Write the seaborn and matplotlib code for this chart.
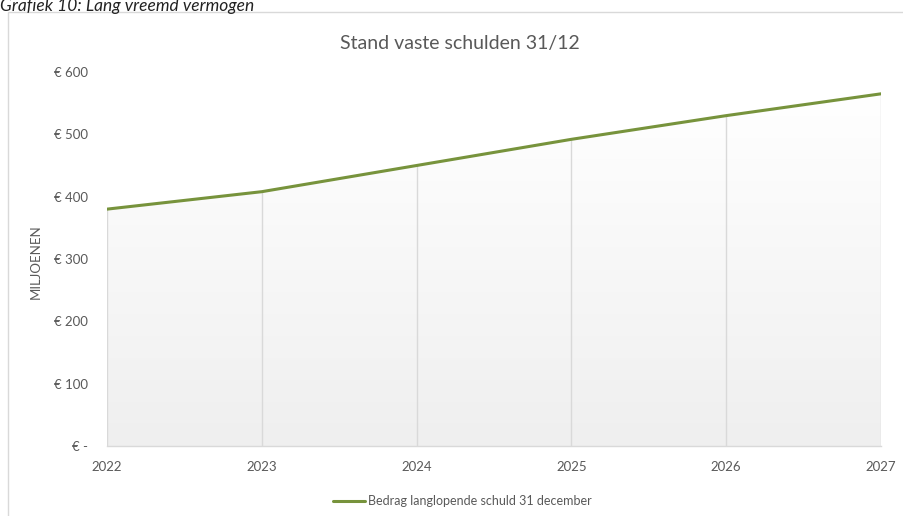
import numpy as np
import pandas as pd
import matplotlib
matplotlib.use("Agg")
import matplotlib.pyplot as plt
import seaborn as sns
from matplotlib.colors import LinearSegmentedColormap
from matplotlib.patches import Rectangle
from matplotlib.lines import Line2D

years = [2022, 2023, 2024, 2025, 2026, 2027]
schuld = [380, 408, 450, 492, 530, 565]
y_ticks = [0, 100, 200, 300, 400, 500, 600]
y_labels = ["€ -", "€ 100", "€ 200", "€ 300", "€ 400", "€ 500", "€ 600"]
series_name = "Bedrag langlopende schuld 31 december"
title = "Stand vaste schulden 31/12"
caption = "Grafiek 10: Lang vreemd vermogen"

sns.set_theme(style="white")
plt.rcParams["font.family"] = ["Lato", "DejaVu Sans"]

df = pd.DataFrame({"jaar": years, "schuld": schuld})

fig = plt.figure(figsize=(9.04, 5.16), dpi=100)
W, H = 904, 516
ax = fig.add_axes([107 / W, 1 - 446 / H, (881 - 107) / W, (446 - 72) / H])

# outer frame
fig.patches.append(Rectangle((8 / W, -0.05), 1.0, 1 - 12 / H + 0.05, transform=fig.transFigure,
                             fill=False, edgecolor="#d9d9d9", linewidth=1.0))
fig.text(0 / W, 1 - 6 / H, caption, fontsize=12.5, style="italic",
         color="#222222", ha="left", va="center")

# gradient area
poly = ax.fill_between(df["jaar"], 0, df["schuld"], color="none", linewidth=0)
cmap = LinearSegmentedColormap.from_list("g", ["#efefef", "#ffffff"])
grad = np.linspace(0, 1, 256).reshape(-1, 1)
img = ax.imshow(grad, cmap=cmap, aspect="auto", origin="lower",
                extent=[years[0], years[-1], 0, max(schuld)], zorder=0)
img.set_clip_path(poly.get_paths()[0], transform=ax.transData)

# vertical grid lines under the area
ax.vlines(df["jaar"], 0, df["schuld"], color="#d9d9d9", linewidth=1.0, zorder=1)

sns.lineplot(data=df, x="jaar", y="schuld", ax=ax, color="#77933C", linewidth=2.2,
             label=series_name, zorder=3, legend=False)

ax.set_xlim(years[0], years[-1])
ax.set_ylim(0, 600)
ax.set_xticks(years)
ax.set_xticklabels([str(y) for y in years])
ax.set_yticks(y_ticks)
ax.set_yticklabels(y_labels)
ax.tick_params(axis="both", length=0, labelsize=9.5, colors="#595959")
ax.tick_params(axis="y", pad=14)
ax.tick_params(axis="x", pad=11)
for s in ["top", "right", "left"]:
    ax.spines[s].set_visible(False)
ax.spines["bottom"].set_color("#d9d9d9")
ax.spines["bottom"].set_linewidth(1.0)
ax.set_xlabel("")
ax.set_ylabel("")
ax.grid(False)

fig.text(36 / W, 1 - 262 / H, "MILJOENEN", rotation=90, ha="center", va="center",
         fontsize=9.5, color="#595959")
fig.text(460 / W, 1 - 44 / H, title, ha="center", va="center", fontsize=14, color="#595959")

h = Line2D([0], [0], color="#77933C", linewidth=2.2)
fig.legend([h], [series_name], loc="center", bbox_to_anchor=(462 / W, 1 - 501 / H),
           frameon=False, fontsize=9, handlelength=2.6, handletextpad=0.2,
           labelcolor="#595959")

fig.savefig("out.png", dpi=100, facecolor="white")
